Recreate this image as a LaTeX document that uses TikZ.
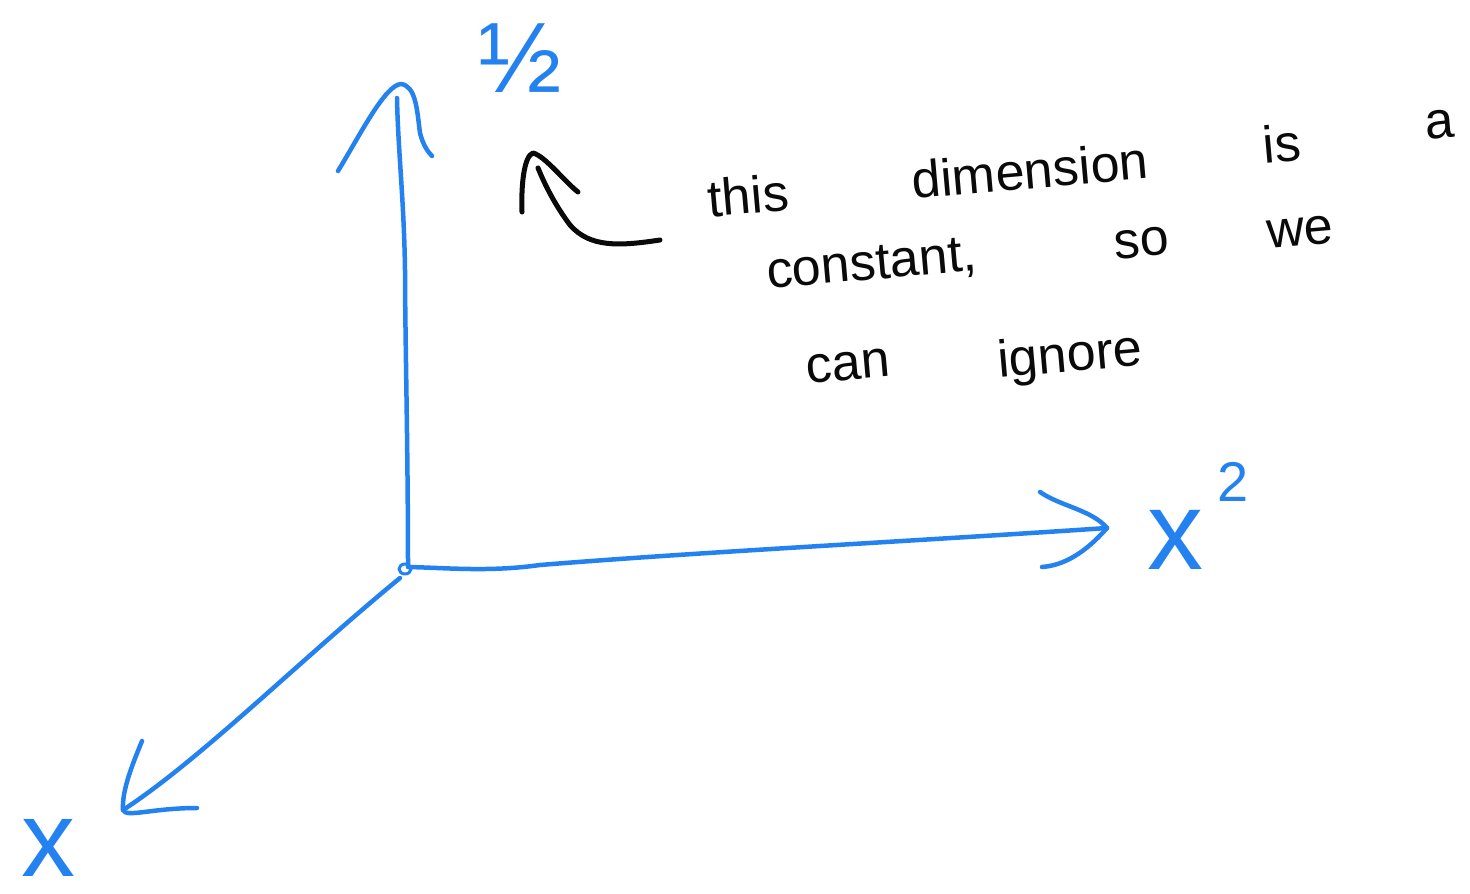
\documentclass[tikz,border=0pt]{standalone}
\usepackage{fontspec}
\setmainfont{Liberation Sans}
\definecolor{penblue}{RGB}{35,130,240}
\definecolor{penink}{RGB}{10,10,10}
\tikzset{
  axisline/.style={draw=penblue, line width=4.5pt, line cap=round, line join=round},
  noteline/.style={draw=penink, line width=5pt, line cap=round, line join=round},
  axislabel/.style={text=penblue, inner sep=0pt, anchor=center},
  noteword/.style={text=penink, inner sep=0pt, anchor=center, rotate=5,
    font=\fontsize{52}{52}\selectfont},
}

\begin{document}
\begin{tikzpicture}[x=1pt, y=-1pt]

  %% ════ 轴端点 ════
  \coordinate (origin) at (405,569);
  \coordinate (ytip)   at (401,84);
  \coordinate (x2tip)  at (1107,528);
  \coordinate (xtip)   at (123,810);

  %% ════ 轴（蓝）════
  \draw[axisline] (origin) ++(3,-3) .. controls (408,450) and (405,330) .. (405,270)
        .. controls (404,200) and (398,150) .. (397,98);
  \draw[axisline] (origin) ++(3,-2) .. controls (450,568) and (490,572) .. (540,565)
        .. controls (700,552) and (900,542) .. (x2tip);
  \draw[axisline] (origin) ++(-5,9) .. controls (300,660) and (200,760) .. (xtip);
  \draw[axisline, line width=3pt] (origin) circle[x radius=6pt, y radius=5pt];

  %% ════ 箭头（手画的 V）════
  \draw[axisline] (338,171) .. controls (360,135) and (385,85) .. (ytip)
        .. controls (416,86) and (417,110) .. (420,133) .. controls (423,145) and (428,152) .. (432,156);
  \draw[axisline] (1040,492) .. controls (1060,506) and (1092,510) .. (x2tip)
        .. controls (1092,545) and (1070,565) .. (1042,567);
  \draw[axisline] (142,741) .. controls (130,770) and (122,792) .. (xtip)
        .. controls (126,818) and (152,808) .. (197,808);

  %% ════ 轴标签 ════
  \node[axislabel, font=\fontsize{100}{100}\selectfont] (half) at (520,58) {½};
  \node[axislabel, font=\fontsize{112}{112}\selectfont] (xsq) at (1175,540) {x};
  \node[axislabel, font=\fontsize{56}{56}\selectfont] (sq) at (1233,482) {2};
  \node[axislabel, font=\fontsize{108}{108}\selectfont] (xlin) at (48,848) {x};

  %% ════ 注释文字（逐词）════
  \node[noteword] (wThis)  at (748,195) {this};
  \node[noteword] (wDim)   at (1030,170) {dimension};
  \node[noteword] (wIs)    at (1282,143) {is};
  \node[noteword] (wA)     at (1440,125) {a};
  \node[noteword] (wConst) at (872,266) {constant,};
  \node[noteword] (wSo)    at (1142,243) {so};
  \node[noteword] (wWe)    at (1300,232) {we};
  \node[noteword] (wCan)   at (848,366) {can};
  \node[noteword] (wIgn)   at (1070,358) {ignore};

  %% ════ 注释箭头（黑）════
  \coordinate (noteTail) at (660,240);
  \coordinate (noteTip)  at (533,153);
  \draw[noteline] (noteTail) .. controls (620,246) and (590,248) .. (570,225)
        .. controls (555,205) and (545,185) .. (538,168);
  \draw[noteline] (522,212) .. controls (521,185) and (524,156) .. (noteTip)
        .. controls (545,156) and (565,182) .. (578,192);

  % 钉死画布
  \pgfresetboundingbox
  \path[use as bounding box] (0,0) rectangle (1470,894);
\end{tikzpicture}
\end{document}
